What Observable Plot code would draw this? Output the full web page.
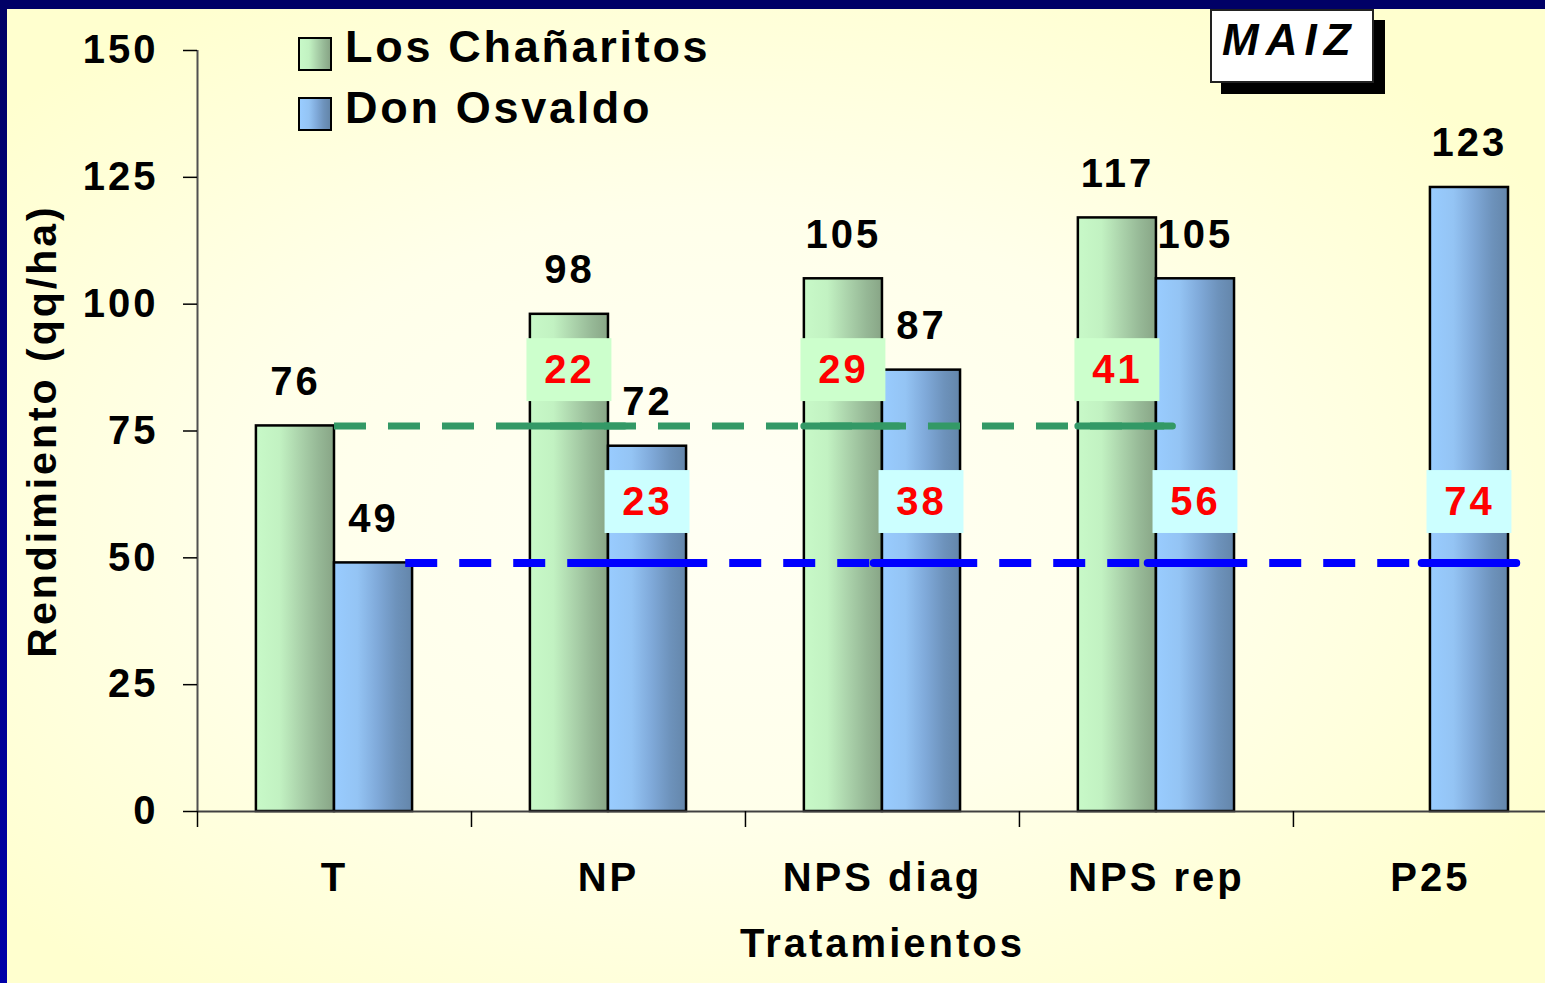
<!DOCTYPE html>
<html><head><meta charset="utf-8">
<script src="https://cdn.jsdelivr.net/npm/d3@7"></script>
<script src="https://cdn.jsdelivr.net/npm/@observablehq/plot@0.6"></script>
<style>
html,body{margin:0;padding:0;background:#FFFFCC;}
#wrap{position:relative;width:1545px;height:983px;overflow:hidden;
  background:radial-gradient(ellipse 62% 62% at 47% 52%, #FFFFF4 0%, #FFFFEA 50%, #FFFFCF 100%);
  font-family:"Liberation Sans",Arial,sans-serif;}
#chart{position:absolute;left:0;top:0;}
#chart svg text{letter-spacing:3px;}
.bt{position:absolute;left:0;top:0;width:1545px;height:9px;background:#000066;}
.bl{position:absolute;left:0;top:0;width:7px;height:983px;background:linear-gradient(#000066,#0000A8);}
.sw{position:absolute;left:298px;width:30px;height:30px;border:2px solid #000;}
.sw0{background:linear-gradient(to right,#C8F9C8 0%,#C2F2C2 30%,#ACD4AC 55%,#96B896 80%,#88A586 100%);}
.sw1{background:linear-gradient(to right,#99CCFF 0%,#94C4F4 30%,#80AADA 55%,#6D92BB 80%,#6486AA 100%);}
.lt{position:absolute;left:345px;font-size:45px;line-height:45px;font-weight:bold;letter-spacing:2.7px;color:#000;white-space:nowrap;}
.maiz{position:absolute;left:1210px;top:9px;width:160px;height:70px;background:#fff;border:2px solid #222;
  box-shadow:11px 11px 0 #000;}
.maiz span{position:absolute;left:10px;top:7px;font-size:44px;line-height:44px;font-weight:bold;font-style:italic;letter-spacing:7px;color:#000;}
</style>
</head><body>
<div id="wrap">
  <div id="chart"></div>
  <div class="bt"></div><div class="bl"></div>
  <div class="sw sw0" style="top:37px"></div>
  <div class="sw sw1" style="top:97px"></div>
  <div class="lt" id="lt0" style="top:24px"></div>
  <div class="lt" id="lt1" style="top:85px"></div>
  <div class="maiz"><span id="maizTxt"></span></div>
</div>
<script>
const categories = ["T", "NP", "NPS diag", "NPS rep", "P25"];
const seriesNames = ["Los Chañaritos", "Don Osvaldo"];
const chanaritos = [76, 98, 105, 117, null];
const donOsvaldo = [49, 72, 87, 105, 123];
const incChanaritos = [null, 22, 29, 41, null];
const incDonOsvaldo = [null, 23, 38, 56, 74];
const yTicks = [0, 25, 50, 75, 100, 125, 150];
const yLabel = "Rendimiento (qq/ha)";
const xLabel = "Tratamientos";
const cropLabel = "MAIZ";

document.getElementById("lt0").textContent = seriesNames[0];
document.getElementById("lt1").textContent = seriesNames[1];
document.getElementById("maizTxt").textContent = cropLabel;

const BW = 0.285;          // bar width in category units
const greenLevel = 87;     // vertical placement of Los Chañaritos increment boxes
const blueLevel = 61;      // vertical placement of Don Osvaldo increment boxes
const boxHalfW = 0.155, boxHalfH = 6.2;

const greenBars = [], blueBars = [];
categories.forEach((c, i) => {
  if (chanaritos[i] != null) greenBars.push({i, v: chanaritos[i], x1: i - BW, x2: i});
  if (donOsvaldo[i] != null) blueBars.push({i, v: donOsvaldo[i], x1: i, x2: i + BW});
});
const allBars = greenBars.concat(blueBars);

const ctrlG = chanaritos[0], ctrlB = donOsvaldo[0];
const lastG = greenBars[greenBars.length - 1].i;
const lastB = blueBars[blueBars.length - 1].i;

const greenInc = [], blueInc = [];
categories.forEach((c, i) => {
  if (incChanaritos[i] != null) greenInc.push({i, v: incChanaritos[i], cx: i - BW / 2});
  if (incDonOsvaldo[i] != null) blueInc.push({i, v: incDonOsvaldo[i], cx: i + BW / 2});
});
const greenSeg = greenInc.map(d => ({y: ctrlG, x1: d.i - BW, x2: d.i + 0.06}));
const blueSeg = blueInc.map(d => ({y: ctrlB, x1: d.i - 0.03, x2: d.i + BW + 0.03}));

const txt = {fontSize: 40, fontWeight: "bold"};

const svg = Plot.plot({
  width: 1545, height: 983,
  marginLeft: 197, marginRight: 0, marginTop: 50, marginBottom: 172,
  style: {background: "transparent", fontFamily: "'Liberation Sans', Arial, sans-serif", color: "#000", overflow: "visible"},
  x: {domain: [-0.5, 4.42], label: null},
  y: {domain: [0, 150], label: null},
  marks: [
    Plot.rect(greenBars, {x1: "x1", x2: "x2", y1: d => 0, y2: "v", fill: "url(#gGreen)", stroke: "#000", strokeWidth: 2.5}),
    Plot.rect(blueBars, {x1: "x1", x2: "x2", y1: d => 0, y2: "v", fill: "url(#gBlue)", stroke: "#000", strokeWidth: 2.5}),
    Plot.ruleY([0], {stroke: "#404040", strokeWidth: 2}),
    Plot.ruleX([-0.5], {y1: d => 0, y2: d => 150, stroke: "#505050", strokeWidth: 2}),
    Plot.axisY(yTicks, {anchor: "left", tickSize: 14, tickPadding: 25, label: null, ...txt, strokeWidth: 1.5}),
    Plot.axisX([-0.5, 0.5, 1.5, 2.5, 3.5], {anchor: "bottom", tickSize: 16, tickFormat: () => "", label: null, strokeWidth: 1.5}),
    Plot.axisX(d3.range(categories.length), {anchor: "bottom", tickSize: 0, tickPadding: 51, tickFormat: i => categories[i], label: null, ...txt}),
    Plot.text([yLabel], {text: d => d, frameAnchor: "left", dx: -155, rotate: -90, lineAnchor: "middle", textAnchor: "middle", fontSize: 41, fontWeight: "bold"}),
    Plot.text([xLabel], {text: d => d, x: d => 2, frameAnchor: "bottom", dy: 133, lineAnchor: "middle", ...txt}),
    Plot.ruleY([ctrlG], {x1: d => 0, x2: d => lastG + 0.03, stroke: "#339966", strokeWidth: 7, strokeDasharray: "32,22"}),
    Plot.ruleY([ctrlB], {x1: d => BW - 0.025, x2: d => lastB + BW + 0.02, stroke: "#0000FF", strokeWidth: 8, strokeDasharray: "32,22"}),
    Plot.ruleY(greenSeg, {y: "y", x1: "x1", x2: "x2", stroke: "#339966", strokeWidth: 7, strokeLinecap: "round"}),
    Plot.ruleY(blueSeg, {y: "y", x1: "x1", x2: "x2", stroke: "#0000FF", strokeWidth: 8, strokeLinecap: "round"}),
    Plot.rect(greenInc, {x1: d => d.cx - boxHalfW, x2: d => d.cx + boxHalfW, y1: d => greenLevel - boxHalfH, y2: d => greenLevel + boxHalfH, fill: "#CCFFCC"}),
    Plot.rect(blueInc, {x1: d => d.cx - boxHalfW, x2: d => d.cx + boxHalfW, y1: d => blueLevel - boxHalfH, y2: d => blueLevel + boxHalfH, fill: "#CCFFFF"}),
    Plot.text(greenInc, {x: "cx", y: d => greenLevel, text: d => String(d.v), lineAnchor: "middle", fill: "#FF0000", ...txt}),
    Plot.text(blueInc, {x: "cx", y: d => blueLevel, text: d => String(d.v), lineAnchor: "middle", fill: "#FF0000", ...txt}),
    Plot.text(allBars, {x: d => (d.x1 + d.x2) / 2, y: "v", text: d => String(d.v), dy: -31, lineAnchor: "bottom", fill: "#000", ...txt})
  ]
});

const defs = d3.create("svg:defs");
function grad(id, stops) {
  const g = defs.append("linearGradient").attr("id", id).attr("x1", "0").attr("x2", "1").attr("y1", "0").attr("y2", "0");
  stops.forEach(([o, c]) => g.append("stop").attr("offset", o).attr("stop-color", c));
}
grad("gGreen", [[0, "#C8F9C8"], [0.3, "#C2F2C2"], [0.55, "#ACD4AC"], [0.8, "#96B896"], [1, "#88A586"]]);
grad("gBlue", [[0, "#99CCFF"], [0.3, "#94C4F4"], [0.55, "#80AADA"], [0.8, "#6D92BB"], [1, "#6486AA"]]);
svg.insertBefore(defs.node(), svg.firstChild);
document.getElementById("chart").appendChild(svg);
</script>
</body></html>
